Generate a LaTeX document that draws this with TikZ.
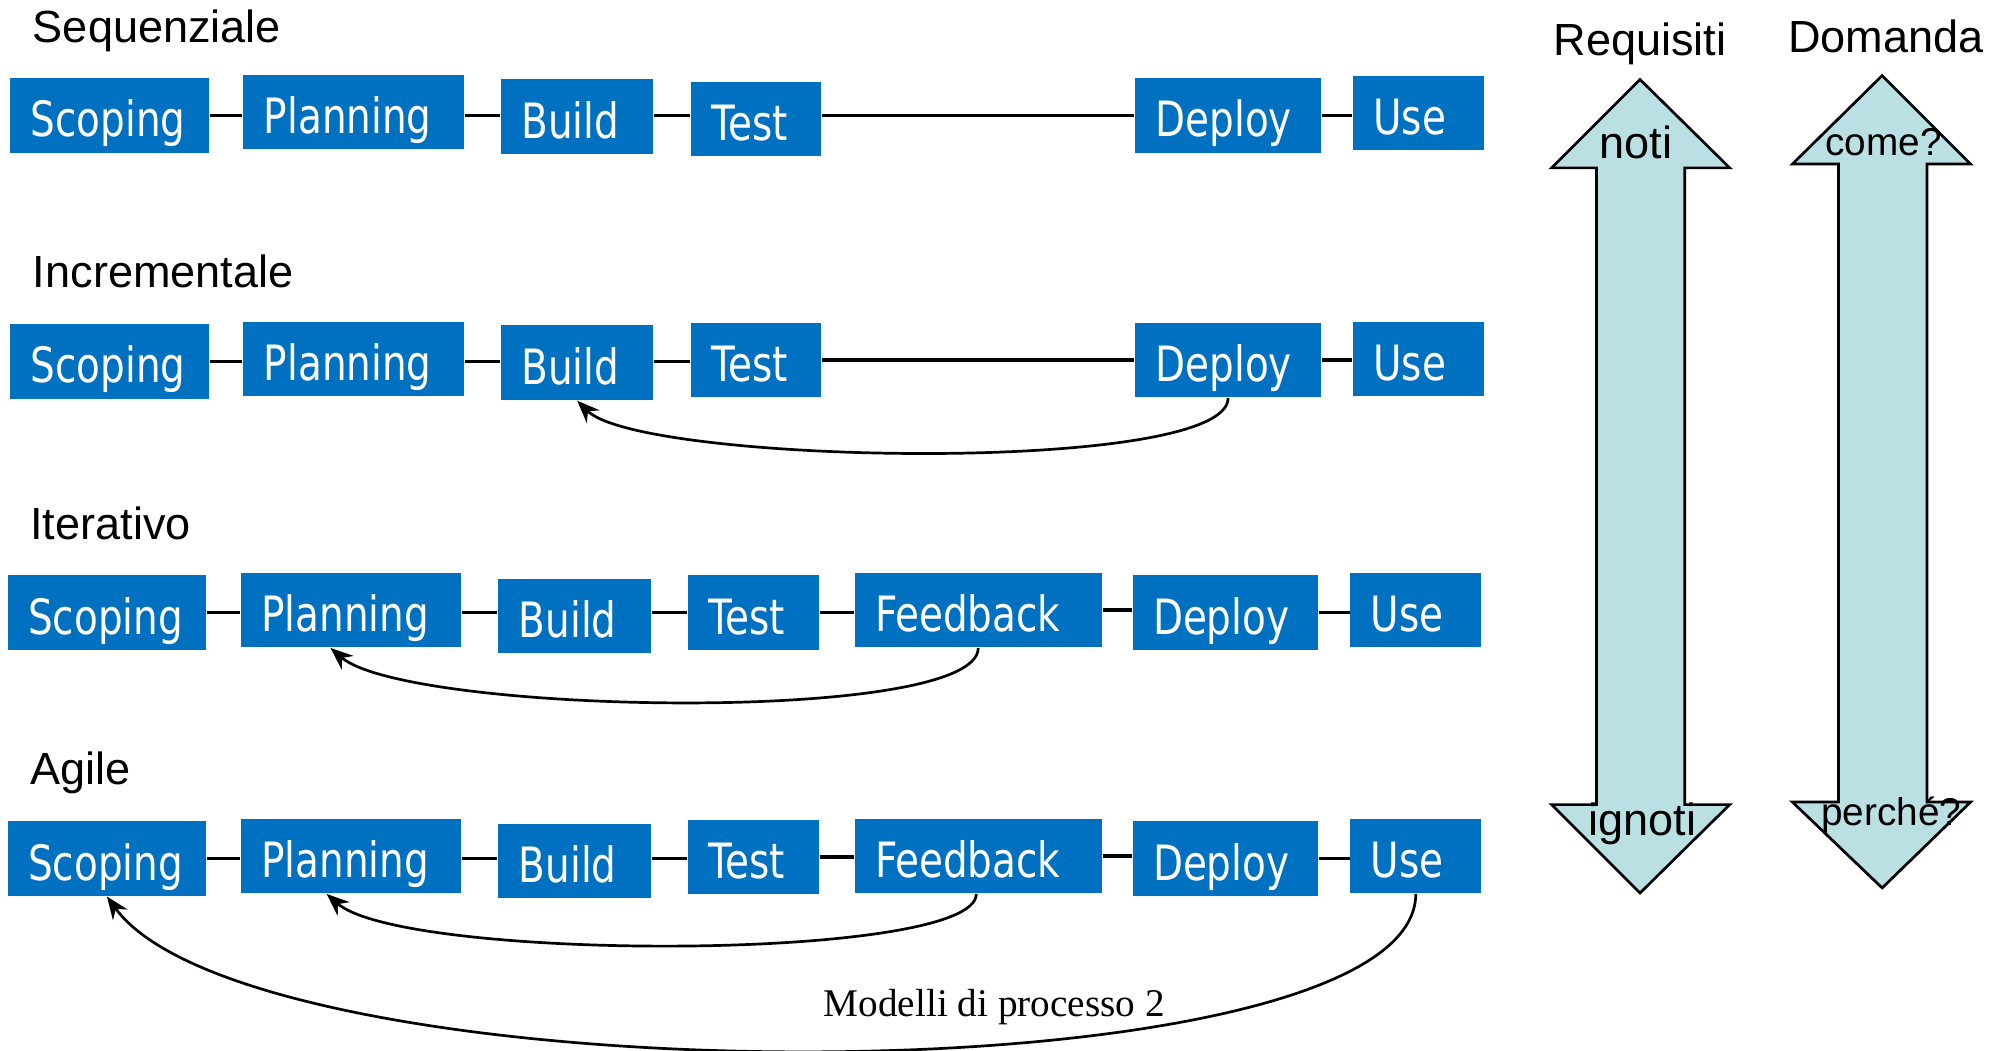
\documentclass[tikz,border=0pt]{standalone}
\usepackage{fontspec}
\setmainfont{Liberation Sans}
\newfontfamily\boxfont[FakeStretch=0.8]{DejaVu Sans}
\newfontfamily\footfont{Liberation Serif}
\usetikzlibrary{arrows.meta}
\definecolor{boxblue}{HTML}{0070C0}
\definecolor{bandfill}{HTML}{BAE0E3}

\begin{document}
\begin{tikzpicture}[x=0.01cm, y=-0.01cm,
        phase/.style={fill=boxblue, text=white, inner xsep=0.16cm, inner ysep=0pt, minimum height=0.58cm,
            text width=#1, align=left, text height=9.6pt, text depth=0pt,
            font=\boxfont\fontsize{10.8}{12}\selectfont},
        link/.style={line width=0.8pt},
        backarc/.style={line width=0.6pt, -{Stealth[length=5pt, width=4pt]}},
        rowtitle/.style={anchor=base west, inner sep=0pt, font=\fontsize{10}{12}\selectfont},
        coltitle/.style={anchor=base, inner sep=0pt, font=\fontsize{10}{12}\selectfont},
        band/.style={fill=bandfill, draw=black, line width=0.6pt, line join=miter}]

        \useasboundingbox (0,0) rectangle (1568,820);

        % titles
        \node (seqtitle) [rowtitle] at (25,33) {Sequenziale};
        \node (inctitle) [rowtitle] at (25,224) {Incrementale};
        \node (ittitle) [rowtitle] at (23,421) {Iterativo};
        \node (agtitle) [rowtitle] at (23,612) {Agile};

        % sequenziale
        \node (s1) [phase=1.23cm] at (85.5,90) {Scoping};
        \node (p1) [phase=1.40cm] at (276,87.5) {Planning};
        \node (b1) [phase=0.87cm] at (450.5,91) {Build};
        \node (t1) [phase=0.70cm] at (590,93) {Test};
        \node (d1) [phase=1.13cm] at (958.5,90) {Deploy};
        \node (u1) [phase=0.70cm] at (1107,88) {Use};

        \draw[link] (s1.east) -- (s1.east -| p1.west);
        \draw[link] (p1.east |- s1) -- (p1.east |- s1 -| b1.west);
        \draw[link] (b1.east |- s1) -- (b1.east |- s1 -| t1.west);
        \draw[link] (t1.east |- s1) -- (t1.east |- s1 -| d1.west);
        \draw[link] (d1.east) -- (d1.east -| u1.west);

        % incrementale
        \node (s2) [phase=1.23cm] at (85.5,282) {Scoping};
        \node (p2) [phase=1.40cm] at (276,280) {Planning};
        \node (b2) [phase=0.87cm] at (450.5,283) {Build};
        \node (t2) [phase=0.70cm] at (590,281) {Test};
        \node (d2) [phase=1.13cm] at (958.5,281) {Deploy};
        \node (u2) [phase=0.70cm] at (1107,280) {Use};

        \draw[link] (s2.east) -- (s2.east -| p2.west);
        \draw[link] (p2.east |- s2) -- (p2.east |- s2 -| b2.west);
        \draw[link] (b2.east |- s2) -- (b2.east |- s2 -| t2.west);
        \draw[link] (t2.east) -- (t2.east -| d2.west);
        \draw[link] (d2.east) -- (d2.east -| u2.west);
        \draw[backarc] (d2.south) .. controls +(0,60) and +(50,50) .. (b2.south);

        % iterativo
        \node (s3) [phase=1.23cm] at (83.5,478) {Scoping};
        \node (p3) [phase=1.40cm] at (274,476) {Planning};
        \node (b3) [phase=0.87cm] at (448.5,481) {Build};
        \node (t3) [phase=0.70cm] at (588,478) {Test};
        \node (f3) [phase=1.61cm] at (763.5,476) {Feedback};
        \node (d3) [phase=1.13cm] at (956.5,478) {Deploy};
        \node (u3) [phase=0.70cm] at (1105,476) {Use};

        \draw[link] (s3.east) -- (s3.east -| p3.west);
        \draw[link] (p3.east |- s3) -- (p3.east |- s3 -| b3.west);
        \draw[link] (b3.east |- s3) -- (b3.east |- s3 -| t3.west);
        \draw[link] (t3.east) -- (t3.east -| f3.west);
        \draw[link] (f3.east) -- (f3.east -| d3.west);
        \draw[link] (d3.east) -- (d3.east -| u3.west);
        \draw[backarc] (f3.south) .. controls +(0,60) and +(60,52) .. ([xshift=-0.16cm]p3.south);

        % agile
        \node (s4) [phase=1.23cm] at (83.5,670) {Scoping};
        \node (p4) [phase=1.40cm] at (274,668) {Planning};
        \node (b4) [phase=0.87cm] at (448.5,672) {Build};
        \node (t4) [phase=0.70cm] at (588,669) {Test};
        \node (f4) [phase=1.61cm] at (763.5,668) {Feedback};
        \node (d4) [phase=1.13cm] at (956.5,670) {Deploy};
        \node (u4) [phase=0.70cm] at (1105,668) {Use};

        \draw[link] (s4.east) -- (s4.east -| p4.west);
        \draw[link] (p4.east |- s4) -- (p4.east |- s4 -| b4.west);
        \draw[link] (b4.east |- s4) -- (b4.east |- s4 -| t4.west);
        \draw[link] (t4.east) -- (t4.east -| f4.west);
        \draw[link] (f4.east) -- (f4.east -| d4.west);
        \draw[link] (d4.east) -- (d4.east -| u4.west);
        \draw[backarc] ([xshift=-0.015cm]f4.south) .. controls +(0,53) and +(60,53) .. ([xshift=-0.19cm]p4.south);
        \draw[backarc] (u4.south) .. controls +(0,163) and +(116,160) .. (s4.south);

        % footer
        \node (footer) [anchor=base, inner sep=0pt, font=\footfont\fontsize{8.7}{10}\selectfont] at (776,793) {Modelli di processo 2};

        % requisiti
        \node (reqtitle) [coltitle] at (1280,43) {Requisiti};
        \draw[band] (1280,62) -- (1350,131) -- (1315,131) -- (1315,628) -- (1350,628) -- (1280,697)
            -- (1211,628) -- (1246,628) -- (1246,131) -- (1211,131) -- cycle;
        \node (noti) [coltitle] at (1277,124) {noti};
        \node (ignoti) [coltitle] at (1282,652) {ignoti};

        % domanda
        \node (domtitle) [coltitle] at (1472,41) {Domanda};
        \draw[band] (1469,59) -- (1538,128) -- (1504,128) -- (1504,626) -- (1538,626) -- (1469,693)
            -- (1399,626) -- (1435,626) -- (1435,128) -- (1399,128) -- cycle;
        \node (come) [coltitle, font=\fontsize{8.6}{10}\selectfont] at (1470,121) {come?};
        \node (perche) [coltitle, font=\fontsize{8.6}{10}\selectfont] at (1476,644) {perché?};
    \end{tikzpicture}
\end{document}
